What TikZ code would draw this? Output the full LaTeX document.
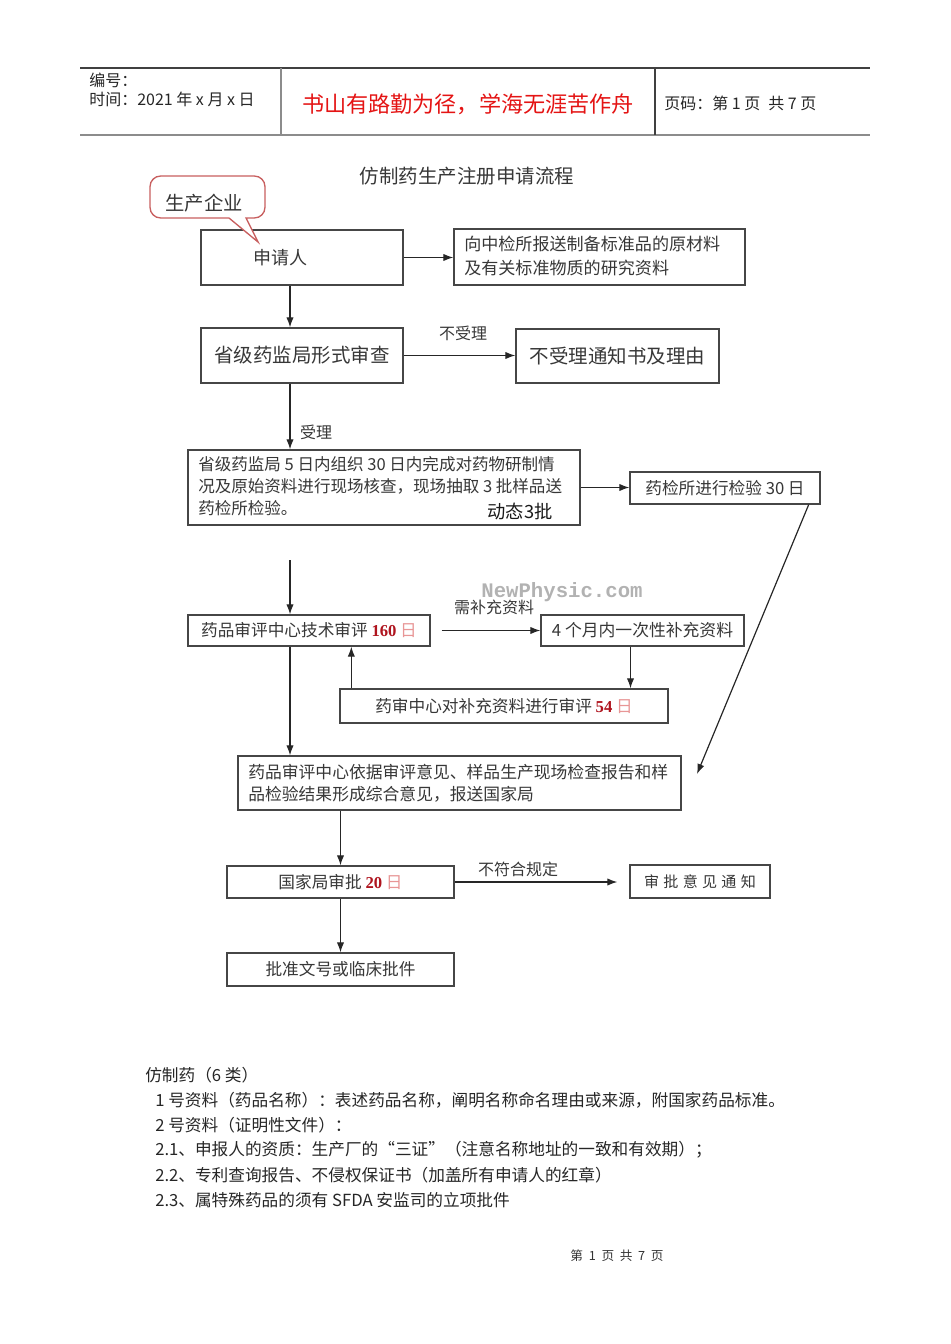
\documentclass[tikz,border=0pt]{standalone}
\usepackage{fontspec}
\setmainfont{Noto Sans CJK SC}
\newfontfamily\tnr{Liberation Serif}
\newfontfamily\mono{Liberation Mono}
\usetikzlibrary{arrows.meta,calc}
\definecolor{boxline}{RGB}{70,70,70}
\definecolor{txtgray}{RGB}{55,55,55}
\definecolor{numred}{RGB}{175,20,30}
\definecolor{dayred}{RGB}{232,150,150}
\definecolor{motto}{RGB}{228,20,20}
\definecolor{calloutc}{RGB}{200,95,95}
\newcommand{\fsz}[1]{\fontsize{#1pt}{#1pt}\selectfont}
\newcommand{\fszb}[2]{\fontsize{#1pt}{#2pt}\selectfont}
\newcommand{\rn}[1]{{\tnr\bfseries\color{numred}#1}}
\newcommand{\rd}{{\color{dayred}日}}
\newcommand{\gp}{\hspace{3.2pt}}
\begin{document}
\begin{tikzpicture}[x=0.75pt,y=-0.75pt,
  box/.style={draw=boxline,line width=1pt,rectangle,inner sep=0pt,text=txtgray,fill=white},
  arr/.style={draw=black!85,line width=0.9pt,-{Latex[length=7.5pt,width=5.5pt]}},
  txt/.style={inner sep=0pt,text=txtgray},
  lbl/.style={inner sep=0pt,text=txtgray,font=\fsz{12}},
  body/.style={inner sep=0pt,anchor=west,text=black!85,font=\fsz{12.5}},
  hdr/.style={inner sep=0pt,anchor=west,text=black!85,font=\fsz{12}}]
\useasboundingbox (0,0) rectangle (950,1344);

% header table
\draw[line width=0.8pt,black!75] (80,68) -- (870,68);
\draw[line width=1.5pt,black!45] (80,135) -- (870,135);
\draw[line width=1pt,black!45] (281,68) -- (281,135);
\draw[line width=0.8pt,black!75] (655,68) -- (655,135);
\node[hdr] (hNo) at (89,80) {编号：};
\node[hdr] (hTime) at (89,99) {时间：2021 年 x 月 x 日};
\node[inner sep=0pt,text=motto,font=\fsz{16.6}] (hMotto) at (468,104) {书山有路勤为径，学海无涯苦作舟};
\node[hdr] (hPage) at (664,103) {页码：第 1 页\enspace 共 7 页};

% title
\node[txt,font=\fsz{14.6}] (title) at (467,176) {仿制药生产注册申请流程};

% boxes
\node[box,minimum width=151.5pt,minimum height=41.25pt] (req) at (302,257.5) {};
\node[txt,font=\fsz{13.5}] (reqT) at (280,258) {申请人};
\node[box,minimum width=218.25pt,minimum height=42pt] (std) at (599.5,257) {};
\node[txt,font=\fszb{12.8}{17.5},anchor=west,align=left] (stdT) at (464,256) {向中检所报送制备标准品的原材料\\及有关标准物质的研究资料};
\node[box,minimum width=151.5pt,minimum height=41.25pt,font=\fsz{14.6}] (prov) at (302,355.5) {省级药监局形式审查};
\node[box,minimum width=152.25pt,minimum height=40.5pt,font=\fsz{14.6}] (rej) at (617.5,356) {不受理通知书及理由};
\node[box,minimum width=294pt,minimum height=56.25pt] (site) at (384,487.5) {};
\node[txt,font=\fszb{12.4}{16.5},anchor=west,align=left] (siteT) at (198,486) {省级药监局 5 日内组织 30 日内完成对药物研制情\\况及原始资料进行现场核查，现场抽取 3 批样品送\\药检所检验。};
\node[inner sep=0pt,text=black!90,font=\fsz{13.7}] (dyn) at (520,512) {动态3批};
\node[box,minimum width=142.5pt,minimum height=24pt,font=\fsz{12.5}] (lab) at (725,488) {药检所进行检验 30 日};
\node[box,minimum width=181.5pt,minimum height=23.25pt,font=\fsz{12.5}] (tech) at (309,630.5) {药品审评中心技术审评 \rn{160} \rd};
\node[box,minimum width=152.25pt,minimum height=23.25pt,font=\fsz{12.6}] (supp) at (642.5,630.5) {4 个月内一次性补充资料};
\node[box,minimum width=246pt,minimum height=25.5pt,font=\fsz{12.5}] (rev) at (504,706) {药审中心对补充资料进行审评 \rn{54} \rd};
\node[box,minimum width=332.25pt,minimum height=40.5pt] (comp) at (459.5,783) {};
\node[txt,font=\fszb{12.6}{16.5},anchor=west,align=left] (compT) at (248,783) {药品审评中心依据审评意见、样品生产现场检查报告和样\\品检验结果形成综合意见，报送国家局};
\node[box,minimum width=170.25pt,minimum height=24pt,font=\fsz{12.5}] (nat) at (340.5,882) {国家局审批 \rn{20} \rd};
\node[box,minimum width=105pt,minimum height=24.75pt,font=\fsz{11.3}] (notice) at (700,881.5) {审\gp 批\gp 意\gp 见\gp 通\gp 知};
\node[box,minimum width=170.25pt,minimum height=24.75pt,font=\fsz{12.5}] (appr) at (340.5,969.5) {批准文号或临床批件};

% callout
\draw[calloutc,line width=1pt,fill=white] (150,176) [rounded corners=8pt] -- (265,176) -- (265,218) [sharp corners] -- (246,218) -- (258,242) -- (229,218) [rounded corners=8pt] -- (150,218) -- cycle;
\node[txt,font=\fsz{14.5}] (firm) at (204,203) {生产企业};

% watermark
\node[inner sep=0pt,text=black!30,font=\mono\bfseries\fsz{15.5}] (wm) at (562,592) {NewPhysic.com};

% connectors
\coordinate (c290) at (290,0);
\draw[arr] (req.east) -- (req.east -| std.west);
\draw[arr] (req.south -| c290) -- (prov.north -| c290);
\draw[arr] (prov.east) -- (prov.east -| rej.west);
\node[lbl] (lNo) at (463,333) {不受理};
\draw[arr] (prov.south -| c290) -- (site.north -| c290);
\node[lbl] (lYes) at (316,432) {受理};
\draw[arr] (site.east) -- (site.east -| lab.west);
\coordinate (dgStart) at ($(lab.south east)+(-12,0)$);
\coordinate (dgEnd) at (697,774);
\draw[arr] (dgStart) -- (dgEnd);
\coordinate (t0) at (290,560);
\draw[arr] (t0) -- (t0 |- tech.north);
\coordinate (s0) at ($(tech.east)+(11,0)$);
\draw[arr] (s0) -- (s0 -| supp.west);
\node[lbl] (lNeed) at (494,607) {需补充资料};
\coordinate (s1) at ($(supp.south)+(-12,0)$);
\draw[arr] (s1) -- (s1 |- rev.north);
\coordinate (r1) at ($(rev.north west)+(12,0)$);
\draw[arr] (r1) -- (r1 |- tech.south);
\draw[arr] (tech.south -| c290) -- (comp.north -| c290);
\draw[arr] (comp.south -| nat.north) -- (nat.north);
\coordinate (n1) at ($(nat.east -| notice.west)+(-12,0)$);
\draw[arr] (nat.east) -- (n1);
\node[lbl] (lBad) at (518,869) {不符合规定};
\draw[arr] (nat.south) -- (appr.north);

% body text
\node[body] (b0) at (145,1075) {仿制药（6 类）};
\node[body] (b1) at (155,1100) {1 号资料（药品名称）：表述药品名称，阐明名称命名理由或来源，附国家药品标准。};
\node[body] (b2) at (155,1125) {2 号资料（证明性文件）：};
\node[body] (b3) at (155,1150) {2.1、申报人的资质：生产厂的“三证”（注意名称地址的一致和有效期）；};
\node[body] (b4) at (155,1175) {2.2、专利查询报告、不侵权保证书（加盖所有申请人的红章）};
\node[body] (b5) at (155,1200) {2.3、属特殊药品的须有 SFDA 安监司的立项批件};

% footer
\node[inner sep=0pt,text=black!80,font=\fsz{9.5}] (foot) at (617,1256) {第\ \ 1\ \ 页\ \ 共\ \ 7\ \ 页};
\end{tikzpicture}
\end{document}
